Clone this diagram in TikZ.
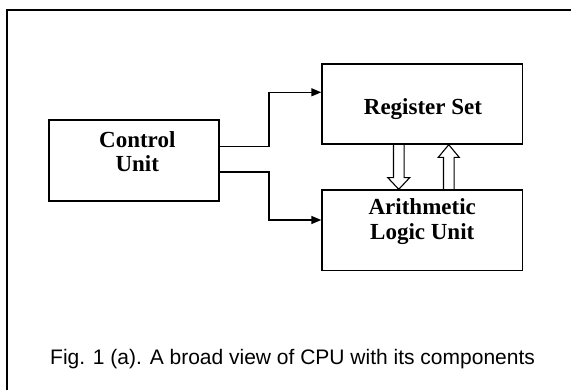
\documentclass[tikz,border=0pt]{standalone}
\usepackage{fontspec}
\setmainfont{Liberation Serif}
\setsansfont{Liberation Sans}
\usetikzlibrary{calc,arrows.meta}
\begin{document}
\begin{tikzpicture}[x=1pt,y=-1pt,
  box/.style={draw, line width=1.4pt, inner sep=0pt},
  lbl/.style={font=\fontsize{23}{24.5}\selectfont\bfseries, align=center, inner sep=0pt},
  conn/.style={line width=1.4pt, -{Triangle[length=10pt,width=8pt]}},
  fat/.style={draw, line width=1.1pt, line join=miter}]
\useasboundingbox (0,0) rectangle (571,390);
\fill[white] (0,0) rectangle (571,390);
\draw[line width=2.6pt] (7,10) rectangle (600,420);
% boxes
\node[box, minimum width=170pt, minimum height=81pt] (cu) at (134,160.5) {};
\node[box, minimum width=200.5pt, minimum height=80pt] (rs) at (422.25,104) {};
\node[box, minimum width=200.5pt, minimum height=80.7pt] (alu) at (422.25,230.35) {};
% labels
\node[lbl] (cut) at ($(cu)+(3.3,-8.9)$) {Control\\Unit};
\node[lbl] (rst) at ($(rs)+(0.75,5)$) {Register Set};
\node[lbl] (alut) at ($(alu)+(0,-8.7)$) {Arithmetic\\Logic Unit};
% connectors
\draw[conn] ($(cu.east)+(0,-13.8)$) -- ++(49.3,0) |- ($(rs.west)+(0,-11.7)$);
\draw[conn] ($(cu.east)+(0,11.5)$) -- ++(49.3,0) |- ($(alu.west)+(0,-10.35)$);
% fat arrows
\coordinate (d1) at ($(rs.south)+(-23.5,0)$);
\coordinate (d2) at ($(alu.north)+(-23.5,0)$);
\draw[fat] ($(d1)+(-5.3,0)$) -- ($(d2)+(-5.3,-11.7)$) -- ($(d2)+(-11,-11.7)$) -- (d2)
  -- ($(d2)+(11,-11.7)$) -- ($(d2)+(5.3,-11.7)$) -- ($(d1)+(5.3,0)$);
\coordinate (u1) at ($(alu.north)+(26.5,0)$);
\coordinate (u2) at ($(rs.south)+(26.5,0)$);
\draw[fat] ($(u1)+(-5.3,0)$) -- ($(u2)+(-5.3,12.7)$) -- ($(u2)+(-10.5,12.7)$) -- (u2)
  -- ($(u2)+(10.5,12.7)$) -- ($(u2)+(5.3,12.7)$) -- ($(u1)+(5.3,0)$);
% caption
\node[font=\sffamily\fontsize{21}{25}\selectfont, anchor=base west, inner sep=0pt] (cap) at (50,365) {Fig. 1 (a). A broad view of CPU with its components};
\end{tikzpicture}
\end{document}
